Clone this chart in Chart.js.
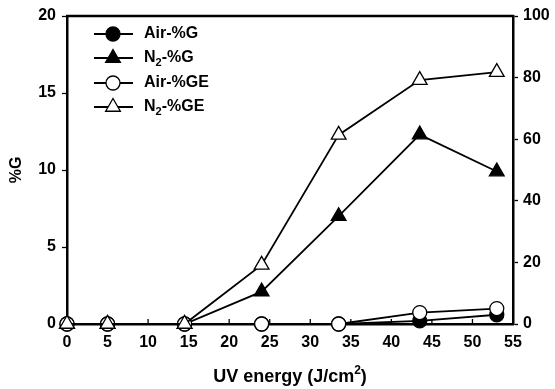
<!DOCTYPE html>
<html>
<head>
<meta charset="utf-8">
<script src="https://cdn.jsdelivr.net/npm/chart.js@4/dist/chart.umd.min.js"></script>
<style>
  html, body { margin:0; padding:0; background:#fff; }
  #wrap { width:555px; height:389px; }
</style>
</head>
<body>
<div id="wrap"><canvas id="c" width="555" height="389"></canvas></div>
<script>
// ─── DATA ────────────────────────────────────────────────────────────────────
const energy = [0, 5, 14.5, 24, 33.5, 43.5, 53];
const airG   = [0, 0, 0, 0, 0, 0.2, 0.6];        // left axis (%G)
const n2G    = [0, 0, 0, 2.1, 7.0, 12.3, 9.9];   // left axis (%G)
const airGE  = [0, 0, 0, 0, 0, 3.7, 5.0];        // right axis (%GE)
const n2GE   = [0, 0, 0, 19.2, 61.4, 79.2, 81.8];// right axis (%GE)
const xTicks = [0, 5, 10, 15, 20, 25, 30, 35, 40, 45, 50, 55];
const leftTicks  = [0, 5, 10, 15, 20];
const rightTicks = [0, 20, 40, 60, 80, 100];
const legendItems = [
  { main:'Air', sub:'', rest:'-%G',  style:'circle',   fill:'#000' },
  { main:'N',   sub:'2', rest:'-%G',  style:'triangle', fill:'#000' },
  { main:'Air', sub:'', rest:'-%GE', style:'circle',   fill:'#fff' },
  { main:'N',   sub:'2', rest:'-%GE', style:'triangle', fill:'#fff' },
];
const xTitle = ['UV energy (J/cm', '2', ')'];  // base, superscript, tail

const FONT = '"Liberation Sans", Arial, sans-serif';
const pts = arr => arr.map((v,i)=>({x:energy[i], y:v}));
const ds = (label, arr, axis, style, fill, order) => ({
  label, data:pts(arr), yAxisID:axis, order,
  borderColor:'#000', borderWidth:1.8, backgroundColor:fill,
  pointStyle:style, pointRadius:style==='triangle'?8.5:7, pointBorderWidth:1.3,
  pointBackgroundColor:fill, pointBorderColor:'#000', clip:false, tension:0
});

function marker(ctx, style, x, y, fill) {
  ctx.save();
  ctx.fillStyle = fill; ctx.strokeStyle = '#000'; ctx.lineWidth = 1.3;
  ctx.beginPath();
  if (style === 'circle') ctx.arc(x, y, 7, 0, Math.PI*2);
  else { const r = 8.5; ctx.moveTo(x, y-r); ctx.lineTo(x+r*0.866, y+r/2); ctx.lineTo(x-r*0.866, y+r/2); ctx.closePath(); }
  ctx.fill(); ctx.stroke();
  ctx.restore();
}

const framePlugin = {
  id:'frame',
  beforeDatasetsDraw(chart) {
    const {ctx, chartArea:a, scales:{x}} = chart;
    ctx.save();
    ctx.strokeStyle = '#000'; ctx.lineWidth = 2.5;
    ctx.beginPath(); ctx.moveTo(a.left-1, a.top); ctx.lineTo(a.right+1, a.top); ctx.stroke();
    ctx.lineWidth = 1.3;
    xTicks.forEach(v => {
      const px = x.getPixelForValue(v);
      ctx.beginPath(); ctx.moveTo(px, a.bottom); ctx.lineTo(px, a.bottom-5); ctx.stroke();
    });
    ctx.restore();
  },
  afterDraw(chart) {
    const {ctx, chartArea:a} = chart;
    const rows = [34, 58, 83, 107];
    ctx.save();
    ctx.textBaseline = 'middle';
    legendItems.forEach((it, i) => {
      const y = rows[i];
      ctx.strokeStyle = '#000'; ctx.lineWidth = 1.8;
      ctx.beginPath(); ctx.moveTo(94, y); ctx.lineTo(133, y); ctx.stroke();
      marker(ctx, it.style, 113, y, it.fill);
      ctx.fillStyle = '#000';
      let tx = 144;
      ctx.font = 'bold 16px ' + FONT;
      ctx.fillText(it.main, tx, y); tx += ctx.measureText(it.main).width;
      if (it.sub) {
        ctx.font = 'bold 11px ' + FONT;
        ctx.fillText(it.sub, tx, y+5); tx += ctx.measureText(it.sub).width;
        ctx.font = 'bold 16px ' + FONT;
      }
      ctx.fillText(it.rest, tx, y);
    });

    // x axis title with a real superscript
    ctx.textBaseline = 'alphabetic';
    const big = 'bold 18px ' + FONT, small = 'bold 12px ' + FONT;
    ctx.font = big;  const w0 = ctx.measureText(xTitle[0]).width, w2 = ctx.measureText(xTitle[2]).width;
    ctx.font = small; const w1 = ctx.measureText(xTitle[1]).width;
    let tx = (a.left + a.right) / 2 - (w0 + w1 + w2) / 2;
    const by = 382;
    ctx.font = big;   ctx.fillText(xTitle[0], tx, by); tx += w0;
    ctx.font = small; ctx.fillText(xTitle[1], tx, by - 8); tx += w1;
    ctx.font = big;   ctx.fillText(xTitle[2], tx, by);
    ctx.restore();
  }
};

const tickFont = { family:FONT, size:16, weight:'bold' };

new Chart(document.getElementById('c'), {
  type:'line',
  data:{ datasets:[
    ds('Air-%G',  airG,  'y',  'circle',   '#000', 4),
    ds('N2-%G',   n2G,   'y',  'triangle', '#000', 3),
    ds('Air-%GE', airGE, 'y2', 'circle',   '#fff', 2),
    ds('N2-%GE',  n2GE,  'y2', 'triangle', '#fff', 1),
  ]},
  options:{
    responsive:false, animation:false,
    layout:{ padding:{ top:16, left:0, right:0, bottom:0 } },
    plugins:{ legend:{display:false}, tooltip:{enabled:false} },
    scales:{
      x:{ type:'linear', min:0, max:55,
        afterBuildTicks: s => { s.ticks = xTicks.map(v=>({value:v})); },
        afterFit: s => { s.height = 65; },
        grid:{ display:true, drawOnChartArea:false, drawTicks:false },
        border:{ color:'#000', width:2.5 },
        ticks:{ color:'#000', font:tickFont, padding:9, maxRotation:0 },
        title:{ display:false }
      },
      y:{ position:'left', min:0, max:20,
        afterBuildTicks: s => { s.ticks = leftTicks.map(v=>({value:v})); },
        afterFit: s => { s.width = 67; },
        grid:{ drawOnChartArea:false, tickLength:5, color:'#000', tickWidth:1.3 },
        border:{ color:'#000', width:2.5 },
        ticks:{ color:'#000', font:tickFont, padding:6 },
        title:{ display:true, text:'%G', color:'#000', font:{family:FONT, size:16, weight:'bold'}, padding:{top:7, bottom:0} }
      },
      y2:{ position:'right', min:0, max:100,
        afterBuildTicks: s => { s.ticks = rightTicks.map(v=>({value:v})); },
        afterFit: s => { s.width = 42; },
        grid:{ drawOnChartArea:false, tickLength:5, color:'#000', tickWidth:1.3 },
        border:{ color:'#000', width:2.5 },
        ticks:{ color:'#000', font:tickFont, padding:5 }
      }
    }
  },
  plugins:[framePlugin]
});
</script>
</body>
</html>
